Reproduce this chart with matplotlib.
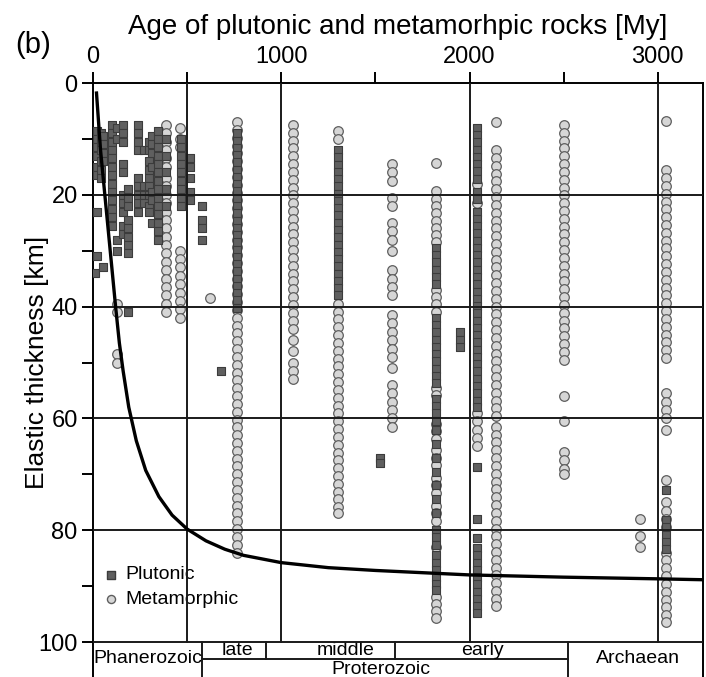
import matplotlib
matplotlib.use("Agg")
from matplotlib import pyplot as plt

plt.rcParams['font.family'] = ['Liberation Sans', 'DejaVu Sans']

# elastic thickness model curve (age My, Te km)
curve_age = [18, 40, 60, 80, 100, 120, 140, 160, 190, 230, 280, 350, 420, 500, 600,
             700, 800, 1000, 1250, 1500, 1750, 2000, 2500, 3000, 3300]
curve_te = [1.5, 12.0, 19.0, 26.0, 33.0, 40.0, 46.5, 51.5, 58.0, 64.0, 69.3, 74.0,
            77.3, 79.8, 81.9, 83.4, 84.5, 85.8, 86.7, 87.2, 87.6, 88.0, 88.4, 88.7, 88.9]

# plutonic rocks, Phanerozoic scatter (age My, Te km)
plut_young_age = [8, 8, 8, 8, 22, 22, 22, 22, 22, 22, 22, 22, 40, 40, 40, 40, 40, 40,
                  55, 55, 55, 55, 55, 100, 100, 100, 100, 100, 100, 100, 100, 100, 100,
                  100, 100, 100, 130, 130, 130, 130, 160, 160, 160, 160, 160, 160, 160,
                  160, 160, 160, 185, 185, 185, 185, 185, 185, 185, 185, 185,
                  240, 240, 240, 240, 240, 240, 240, 240, 240, 270, 270, 270, 270,
                  295, 295, 295, 295, 295, 295, 295, 295, 295, 315, 315, 315, 315, 315,
                  315, 315, 345, 345, 345, 345, 345, 345, 345, 345, 345, 345, 345, 345,
                  345, 345, 390, 390, 390, 390, 390, 470, 470, 470, 470, 470, 470, 470,
                  470, 470, 515, 515, 515, 515, 515, 580, 580, 580, 580, 680]
plut_young_te = [9, 10.5, 12, 34, 8.5, 10, 11.5, 13, 15, 16.5, 23, 31, 9, 10.5, 12, 14,
                 15.5, 17, 9.5, 11, 12.5, 14, 33, 7.5, 9, 10.5, 12, 13.5, 15, 16.5, 18,
                 19.5, 21, 22.5, 24, 25.5, 8, 10, 28, 30, 7.5, 9, 10.5, 14.5, 16, 20,
                 21.5, 23, 25.5, 27, 19, 20.5, 22, 24.5, 26, 27.5, 29, 30.5, 41,
                 7.5, 9, 10.5, 12, 17, 18.5, 20, 21.5, 23, 12, 18.5, 20, 21.5,
                 10.5, 12, 14, 15.5, 17, 18.5, 20, 22, 23, 9.5, 11, 12.5, 15, 19.5,
                 21, 25, 8.5, 10, 11.5, 13, 14.5, 16, 17.5, 19, 20.5, 22, 23.5, 25,
                 26.5, 28, 10, 13, 16, 19, 22, 10, 11.5, 13, 14.5, 16, 17.5, 19,
                 20.5, 22, 13.5, 15, 17, 19.5, 21, 22, 24.5, 26, 28, 51.5]

# plutonic rocks, Precambrian columns (Te km)
plut_765 = [9, 10.3, 11.6, 12.9, 14.2, 15.5, 16.8, 18.1, 19.4, 20.7, 22, 23.3, 24.6,
            25.9, 27.2, 28.5, 29.8, 31.1, 32.4, 33.7, 35, 36.3, 37.6, 38.9, 40.2]
plut_1300 = [12, 13.3, 14.6, 15.9, 17.2, 18.5, 19.8, 21.1, 22.4, 23.7, 25, 26.3, 27.6,
             28.9, 30.2, 31.5, 32.8, 34.1, 35.4, 36.7, 38]
plut_1525 = [67, 68]
plut_1822 = [29.5, 30.8, 32.1, 33.4, 34.7, 36, 42, 43.3, 44.6, 45.9, 47.2, 48.5, 49.8,
             51.1, 52.4, 53.7, 56.5, 57.8, 59.1, 60.4, 62, 64.5, 67, 69.5, 72, 74.5, 77,
             80, 81.3, 82.6, 84.5, 85.8, 87.1, 88.4, 89.7, 90.7]
plut_1950 = [44.6, 45.9, 47.2]
plut_2040 = [8, 9.3, 10.6, 11.9, 13.2, 14.5, 15.8, 17.1, 19.5, 20.8, 23, 24.3, 25.6,
             26.9, 28.2, 29.5, 30.8, 32.1, 33.4, 34.7, 36, 37.3, 38.6, 39.9, 41.2, 42.5,
             43.8, 45.1, 46.4, 47.7, 49, 50.3, 51.6, 52.9, 54.2, 55.5, 56.8, 58,
             68.7, 78, 81.4, 83.2, 84.5, 85.8, 87.1, 88.4, 89.7, 91, 92.3, 93.6, 94.8]
plut_3043 = [72.8, 78.2, 79.5, 80.8, 82.1, 83.4]

# metamorphic rocks (Te km)
meta_125 = [39.5, 41, 48.5, 50]
meta_390 = [7.5, 9, 10.5, 12, 13.5, 15, 17, 18.5, 20, 21.5, 23, 24.5, 26, 27.5, 29,
            30.5, 32, 33.5, 35, 36.5, 38, 39.5, 41]
meta_460 = [8, 10, 11.5, 30, 31.5, 33, 34.5, 36, 37.5, 39, 40.5, 42]
meta_620 = [38.5]
meta_765 = [7, 8.4, 9.8, 11.2, 12.6, 14, 15.4, 16.8, 18.2, 19.6, 21, 22.4, 23.8, 25.2,
            26.6, 28, 29.4, 30.8, 32.2, 33.6, 35, 36.4, 37.8, 39.2, 40.6, 42, 43.4,
            44.8, 46.2, 47.6, 49, 50.4, 51.8, 53.2, 54.6, 56, 57.4, 58.8, 60.2, 61.6,
            63, 64.4, 65.8, 67.2, 68.6, 70, 71.4, 72.8, 74.2, 75.6, 77, 78.4, 79.8,
            81.2, 82.6, 84]
meta_1060 = [7.5, 8.9, 10.3, 11.7, 13.1, 14.5, 15.9, 17.3, 18.7, 20.1, 21.5, 22.9, 24.3,
             25.7, 27.1, 28.5, 29.9, 31.3, 32.7, 34.1, 35.5, 36.9, 38.3, 39.7, 41.1, 42.5,
             44, 46, 48, 50, 51.5, 53]
meta_1300 = [8.5, 10, 39.5, 40.9, 42.3, 43.7, 45.1, 46.5, 47.9, 49.3, 50.7, 52.1, 53.5,
             54.9, 56.3, 57.7, 59.1, 60.5, 61.9, 63.3, 64.7, 66.1, 67.5, 68.9, 70.3,
             71.7, 73.1, 74.5, 75.9, 77]
meta_1590 = [14.5, 16, 17.5, 20.5, 22, 25, 26.5, 28, 30, 33.5, 35, 36.5, 38, 41.5, 43,
             44.5, 46, 47.5, 49, 51, 54, 55.5, 57, 58.5, 60, 61.5]
meta_1822 = [14.4, 19.4, 20.7, 22, 23.3, 24.6, 25.9, 27.2, 28.5, 37, 38.3, 39.6, 40.9,
             54.5, 55.8, 61, 62.3, 63.6, 65.7, 67, 68.3, 70.7, 72, 73.3, 75.7, 77, 78.3,
             83, 92, 93.2, 94.4, 95.7]
meta_2040 = [18, 21.5, 59, 60.5, 62, 63.5, 65]
meta_2143 = [7, 12, 13.4, 14.8, 16.2, 17.6, 19, 20.4, 21.8, 23.2, 24.6, 26, 27.4, 28.8,
             30.2, 31.6, 33, 34.4, 35.8, 37.2, 38.6, 40, 41.4, 42.8, 44.2, 45.6, 47,
             48.4, 49.8, 51.2, 52.6, 54, 55.4, 56.8, 58.2, 59.6, 61.5, 62.9, 64.3, 65.7,
             67.1, 68.5, 69.9, 71.3, 72.7, 74.1, 75.5, 76.9, 78.3, 79.7, 81.1, 82.5,
             83.9, 85.3, 86.7, 88.1, 89.5, 90.9, 92.3, 93.5]
meta_2500 = [7.5, 8.9, 10.3, 11.7, 13.1, 14.5, 15.9, 17.3, 18.7, 20.1, 21.5, 22.9, 24.3,
             25.7, 27.1, 28.5, 29.9, 31.3, 32.7, 34.1, 35.5, 36.9, 38.3, 39.7, 41.1, 42.5,
             43.9, 45.3, 46.7, 48.1, 49.5, 56, 60.5, 66, 67.5, 69, 70]
meta_2905 = [78, 81, 83]
meta_3043 = [6.8, 15.6, 17, 18.4, 19.8, 21.2, 22.6, 24, 25.4, 26.8, 28.2, 29.6, 31,
             32.4, 33.8, 35.2, 36.6, 38, 39.4, 40.8, 42.2, 43.6, 45, 46.4, 47.8, 49.2,
             55.5, 57, 58.5, 60, 62, 71, 75, 76.5, 78, 79.5, 84, 85.4, 86.8, 88.2, 89.6,
             91, 92.4, 93.8, 95.2, 96.4]

# era bar: boundaries (My) and labels
era_bounds = [0, 580, 920, 1605, 2525, 3240]
era_names = ["Phanerozoic", "late", "middle", "early", "Archaean"]
era_label_age = [292, 765, 1343, 2070, 2894]
proterozoic_age = 1530

x_ticks = [0, 1000, 2000, 3000]
y_ticks = [0, 20, 40, 60, 80, 100]

plut_cols = {765: plut_765, 1300: plut_1300, 1525: plut_1525, 1822: plut_1822,
             1950: plut_1950, 2040: plut_2040, 3043: plut_3043}
meta_cols = {125: meta_125, 390: meta_390, 460: meta_460, 620: meta_620, 765: meta_765,
             1060: meta_1060, 1300: meta_1300, 1590: meta_1590, 1822: meta_1822,
             2040: meta_2040, 2143: meta_2143, 2500: meta_2500, 2905: meta_2905,
             3043: meta_3043}


def flatten(cols):
    xs, ys = [], []
    for age, vals in cols.items():
        xs += [age] * len(vals)
        ys += vals
    return xs, ys


fig = plt.figure(figsize=(7.06, 6.77), dpi=100)
ax = fig.add_axes([93 / 706, 0, 610 / 706, 594 / 677])
ax.set_xlim(0, 3240)
ax.set_ylim(106.26, 0)

mx, my = flatten(meta_cols)
ax.scatter(mx, my, marker='o', s=48, facecolor='#d6d6d6', edgecolor='#5e5e5e',
           linewidth=0.9, zorder=2)
px, py = flatten(plut_cols)
px += plut_young_age
py += plut_young_te
ax.scatter(px, py, marker='s', s=40, facecolor='#5f5f5f', edgecolor='#3c3c3c',
           linewidth=0.8, zorder=3)

ax.plot(curve_age, curve_te, color='black', lw=2.4, zorder=5, solid_capstyle='butt')

# grid
for y in [20, 40, 60, 80, 100]:
    ax.plot([0, 3240], [y, y], color='#1a1a1a', lw=1.4, zorder=4)
for x in [500, 1000, 2000, 3000]:
    ax.plot([x, x], [0, 100], color='#1a1a1a', lw=1.4, zorder=4)

# era bar
ax.plot([era_bounds[1], era_bounds[4]], [103, 103], color='#1a1a1a', lw=1.4)
for x, y1 in zip(era_bounds[1:5], [106.26, 103, 103, 106.26]):
    ax.plot([x, x], [100, y1], color='#1a1a1a', lw=1.4)
for name, age in zip(era_names, era_label_age):
    yy = 101.5 if name in ("late", "middle", "early") else 102.9
    ax.text(age, yy, name, ha='center', va='center', fontsize=14)
ax.text(proterozoic_age, 104.9, "Proterozoic", ha='center', va='center', fontsize=14)

# legend
ax.scatter([95], [88.0], marker='s', s=30, facecolor='#5f5f5f', edgecolor='#3c3c3c')
ax.scatter([95], [92.3], marker='o', s=34, facecolor='#d6d6d6', edgecolor='#5e5e5e')
ax.text(170, 87.9, "Plutonic", va='center', fontsize=14)
ax.text(170, 92.4, "Metamorphic", va='center', fontsize=14)

# axes
ax.spines['bottom'].set_visible(False)
for s in ['top', 'left', 'right']:
    ax.spines[s].set_linewidth(1.4)
ax.xaxis.tick_top()
ax.xaxis.set_label_position('top')
ax.set_xticks(x_ticks)
ax.set_xticks([500, 1500, 2500], minor=True)
ax.set_yticks(y_ticks)
ax.set_yticks([10, 30, 50, 70, 90], minor=True)
ax.tick_params(which='both', direction='out', length=8, width=1.4, labelsize=17)
ax.tick_params(axis='x', pad=3)
ax.tick_params(axis='y', pad=3)

ax.set_xlabel("Age of plutonic and metamorhpic rocks [My]", fontsize=20)
ax.xaxis.set_label_coords(0.5, 1.083)
ax.set_ylabel("Elastic thickness [km]", fontsize=19)
ax.yaxis.set_label_coords(-0.072, 0.53)

fig.text(33 / 706, 1 - 45 / 677, "(b)", ha='center', va='center', fontsize=21)

fig.savefig("out.png", dpi=100)
